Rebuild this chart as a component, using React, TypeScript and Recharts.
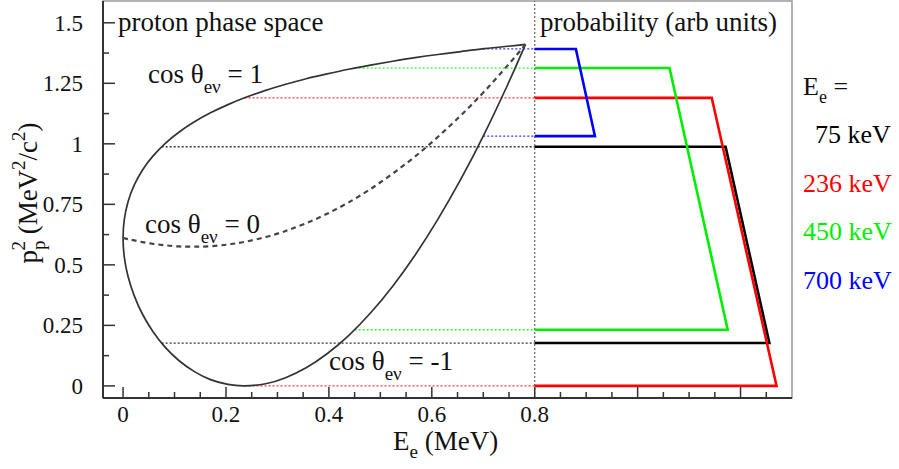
import React from 'react';
import { LineChart, Line, XAxis, YAxis, ReferenceLine, ReferenceArea } from 'recharts';

// boundary of the proton phase space, read along the electron energy (MeV)
const boundaryEnergy = [0, 0.0024, 0.0097, 0.0216, 0.0378, 0.0579, 0.0816, 0.1084, 0.1379, 0.1699, 0.2039, 0.2361, 0.2771, 0.3158, 0.3557, 0.3965, 0.4383, 0.4808, 0.524, 0.5677, 0.612, 0.6567, 0.7019, 0.7474, 0.7657, 0.7749, 0.782];
const cosPlusOne = [0.611, 0.688, 0.761, 0.829, 0.892, 0.949, 1.001, 1.048, 1.09, 1.128, 1.162, 1.19, 1.221, 1.246, 1.269, 1.289, 1.308, 1.325, 1.341, 1.356, 1.369, 1.381, 1.393, 1.403, 1.407, 1.409, 1.411];
const cosMinusOne = [0.611, 0.532, 0.452, 0.373, 0.296, 0.225, 0.16, 0.105, 0.06, 0.026, 0.006, 0, 0.009, 0.034, 0.075, 0.133, 0.208, 0.301, 0.412, 0.541, 0.689, 0.855, 1.04, 1.244, 1.331, 1.376, 1.411];
const cosZero = [0.611, 0.61, 0.606, 0.601, 0.594, 0.587, 0.581, 0.576, 0.575, 0.577, 0.584, 0.595, 0.615, 0.64, 0.672, 0.711, 0.758, 0.813, 0.877, 0.948, 1.029, 1.118, 1.216, 1.324, 1.369, 1.392, 1.411];

// selected electron energies
const beamLabels = ['75 keV', '236 keV', '450 keV', '700 keV'];
const beamEnergy = [0.075, 0.236, 0.45, 0.7];
const beamHigh = [0.988, 1.19, 1.313, 1.392];
const beamLow = [0.177, 0, 0.232, 1.032];
// probability boxes (right panel), end of top and bottom edge
const probTopEnd = [1.171, 1.144, 1.062, 0.88];
const probBottomEnd = [1.256, 1.27, 1.175, 0.917];
const beamColors = ['#000000', '#ff0000', '#00ee00', '#0000ff'];

const panelSplit = 0.8;

const xMajor = [0, 0.2, 0.4, 0.6, 0.8, 1, 1.2];
const xLabeled = [0, 0.2, 0.4, 0.6, 0.8];
const xMinor = [0.05, 0.1, 0.15, 0.25, 0.3, 0.35, 0.45, 0.5, 0.55, 0.65, 0.7, 0.75, 0.85, 0.9, 0.95, 1.05, 1.1, 1.15, 1.25];
const yMajor = [0, 0.25, 0.5, 0.75, 1, 1.25, 1.5];
const yMinor = [0.125, 0.375, 0.625, 0.875, 1.125, 1.375];

const FONT = '"Liberation Serif", "Times New Roman", serif';
const AXIS = '#333';

const has = (list: number[], v: number) => list.some((t) => Math.abs(t - v) < 1e-6);

const XTick = (props: any) => {
  const { x, y, payload } = props;
  const v = payload.value;
  const major = has(xMajor, v);
  return (
    <g>
      <line x1={x} x2={x} y1={y} y2={y - (major ? 11 : 6)} stroke={AXIS} strokeWidth={1.5} />
      {has(xLabeled, v) && (
        <text x={x} y={y + 24} textAnchor="middle" fontSize={23} fontFamily={FONT} fill="#111">
          {String(v)}
        </text>
      )}
    </g>
  );
};

const YTick = (props: any) => {
  const { x, y, payload } = props;
  const v = payload.value;
  const major = has(yMajor, v);
  return (
    <g>
      <line x1={x} x2={x + (major ? 12 : 6)} y1={y} y2={y} stroke={AXIS} strokeWidth={1.5} />
      {major && (
        <text x={x - 20} y={y + 8} textAnchor="end" fontSize={23} fontFamily={FONT} fill="#111">
          {String(v)}
        </text>
      )}
    </g>
  );
};

const boundaryLoop = [
  ...boundaryEnergy.map((e, i) => ({ x: e, y: cosMinusOne[i] })).reverse(),
  ...boundaryEnergy.map((e, i) => ({ x: e, y: cosPlusOne[i] })).slice(1),
];
const perpCurve = boundaryEnergy.map((e, i) => ({ x: e, y: cosZero[i] }));

const CosLabel = ({ x, y, value }: { x: number; y: number; value: string }) => (
  <text x={x} y={y} fontSize={27} fontFamily={FONT} fill="#111">
    cos θ<tspan dy={10} fontSize={19}>eν</tspan>
    <tspan dy={-10}> = {value}</tspan>
  </text>
);

export default function App() {
  return (
    <div style={{ position: 'absolute', left: 0, top: 0, width: 899, height: 469, background: '#fff' }}>
      <LineChart width={899} height={469} margin={{ top: 1, right: 107, bottom: 11, left: 13 }}>
        <XAxis
          type="number"
          dataKey="x"
          domain={[-0.039, 1.3]}
          allowDataOverflow
          ticks={[...xMajor, ...xMinor].sort((a, b) => a - b)}
          interval={0}
          tick={<XTick />}
          tickLine={false}
          tickSize={0}
          tickMargin={0}
          height={60}
          axisLine={{ stroke: AXIS, strokeWidth: 2 }}
        />
        <YAxis
          type="number"
          dataKey="y"
          domain={[-0.05, 1.59]}
          allowDataOverflow
          ticks={[...yMajor, ...yMinor].sort((a, b) => a - b)}
          interval={0}
          tick={<YTick />}
          tickLine={false}
          tickSize={0}
          tickMargin={0}
          width={90}
          axisLine={{ stroke: AXIS, strokeWidth: 2 }}
        />
        <ReferenceArea x1={-0.039} x2={1.3} y1={-0.05} y2={1.59} fill="none" stroke="#999" strokeWidth={1.5} />
        <ReferenceLine x={panelSplit} stroke="#666" strokeDasharray="2 2" strokeWidth={1.2} />

        {beamEnergy.map((e, i) => (
          <Line
            key={`hi${i}`}
            data={[{ x: e, y: beamHigh[i] }, { x: panelSplit, y: beamHigh[i] }]}
            dataKey="y"
            type="linear"
            stroke={beamColors[i]}
            strokeOpacity={0.8}
            strokeWidth={1.3}
            strokeDasharray="2 2"
            dot={false}
            activeDot={false}
            isAnimationActive={false}
          />
        ))}
        {beamEnergy.map((e, i) => (
          <Line
            key={`lo${i}`}
            data={[{ x: e, y: beamLow[i] }, { x: panelSplit, y: beamLow[i] }]}
            dataKey="y"
            type="linear"
            stroke={beamColors[i]}
            strokeOpacity={0.8}
            strokeWidth={1.3}
            strokeDasharray="2 2"
            dot={false}
            activeDot={false}
            isAnimationActive={false}
          />
        ))}

        <Line
          data={boundaryLoop}
          dataKey="y"
          type="natural"
          stroke="#333"
          strokeWidth={1.7}
          dot={false}
          activeDot={false}
          isAnimationActive={false}
        />
        <Line
          data={perpCurve}
          dataKey="y"
          type="natural"
          stroke="#444"
          strokeWidth={2.2}
          strokeDasharray="5 4"
          dot={false}
          activeDot={false}
          isAnimationActive={false}
        />

        {beamEnergy.map((e, i) => (
          <Line
            key={`box${i}`}
            data={[
              { x: panelSplit, y: beamHigh[i] },
              { x: probTopEnd[i], y: beamHigh[i] },
              { x: probBottomEnd[i], y: beamLow[i] },
              { x: panelSplit, y: beamLow[i] },
            ]}
            dataKey="y"
            type="linear"
            stroke={beamColors[i]}
            strokeWidth={2.6}
            dot={false}
            activeDot={false}
            isAnimationActive={false}
          />
        ))}

        <text x={118} y={31} fontSize={27} fontFamily={FONT} fill="#111">proton phase space</text>
        <text x={540} y={31} fontSize={27} fontFamily={FONT} fill="#111">probability (arb units)</text>
        <CosLabel x={148} y={83} value="1" />
        <CosLabel x={145} y={233} value="0" />
        <CosLabel x={329} y={370} value="-1" />

        <text x={393} y={450} fontSize={27} fontFamily={FONT} fill="#111">
          E<tspan dy={8} fontSize={19}>e</tspan>
          <tspan dy={-8}> (MeV)</tspan>
        </text>
        <text transform="translate(37,193) rotate(-90)" textAnchor="middle" fontSize={27} fontFamily={FONT} fill="#111">
          p<tspan dy={8} fontSize={19}>p</tspan>
          <tspan dx={-10} dy={-20} fontSize={19}>2</tspan>
          <tspan dy={12}> (MeV</tspan>
          <tspan dy={-12} fontSize={19}>2</tspan>
          <tspan dy={12}>/c</tspan>
          <tspan dy={-12} fontSize={19}>2</tspan>
          <tspan dy={12}>)</tspan>
        </text>

        <text x={803} y={95} fontSize={26} fontFamily={FONT} fill="#111">
          E<tspan dy={8} fontSize={18}>e</tspan>
          <tspan dy={-8}> =</tspan>
        </text>
        {beamLabels.map((label, i) => (
          <text
            key={label}
            x={i === 0 ? 815 : 803}
            y={143 + i * 48.5}
            fontSize={26}
            fontFamily={FONT}
            fill={beamColors[i]}
          >
            {label}
          </text>
        ))}
      </LineChart>
    </div>
  );
}
